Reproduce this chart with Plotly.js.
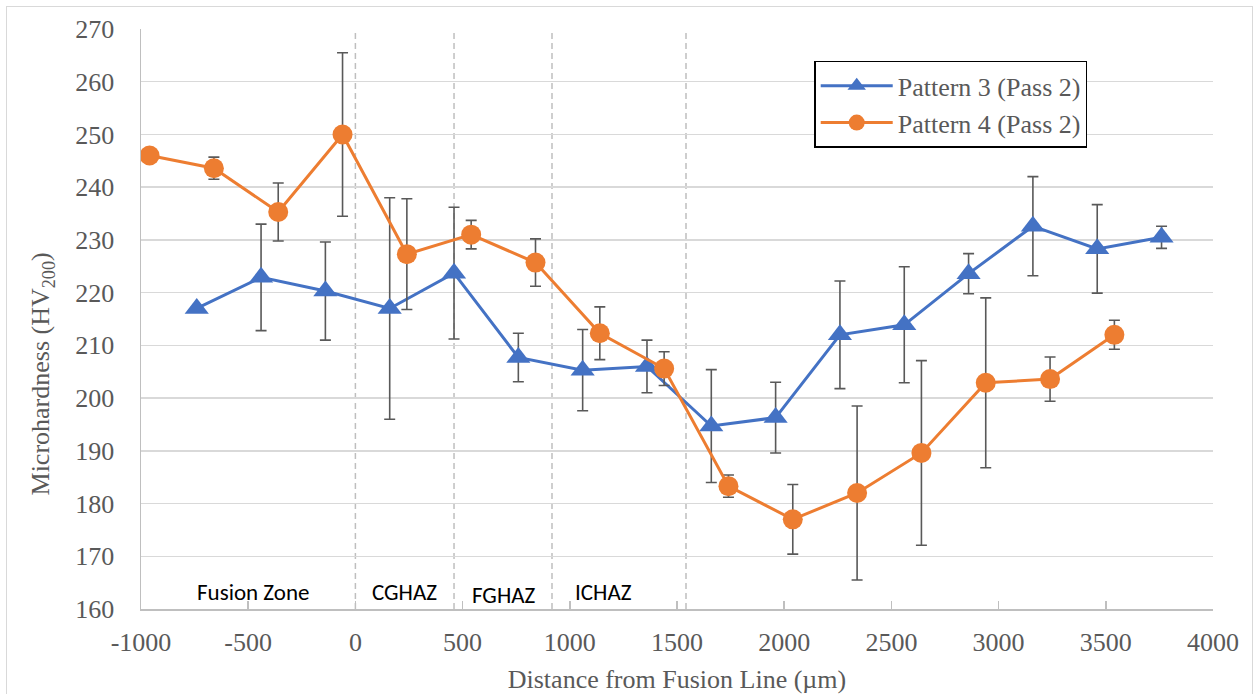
<!DOCTYPE html>
<html>
<head>
<meta charset="utf-8">
<script src="https://cdn.plot.ly/plotly-3.0.1.min.js"></script>
<style>
  html, body { margin: 0; padding: 0; background: #ffffff; }
  #wrap { position: relative; width: 1255px; height: 694px; overflow: hidden; }
  #chart { width: 1255px; height: 694px; }
  #frame { position: absolute; left: 6px; top: 6px; width: 1247px; height: 700px;
           border: 1.5px solid #d9d9d9; box-sizing: border-box; pointer-events: none; }
</style>
</head>
<body>
<div id="wrap">
  <div id="chart"></div>
  <div id="frame"></div>
</div>
<script>
// Microhardness traverse across the weld, Pass 2
const pattern3X   = [-740, -440, -140, 160, 460, 760, 1060, 1360, 1660, 1960, 2260, 2560, 2860, 3160, 3460, 3760];
const pattern3HV  = [217.0, 222.9, 220.3, 217.0, 223.7, 207.7, 205.3, 206.0, 194.7, 196.3, 212.0, 213.9, 223.6, 232.6, 228.3, 230.5];
const pattern3Err = [null, 10.1, 9.3, 21.0, 12.5, 4.6, 7.7, 5.0, 10.7, 6.7, 10.2, 11.0, 3.8, 9.4, 8.4, 2.1];

const pattern4X   = [-960, -660, -360, -60, 240, 540, 840, 1140, 1440, 1740, 2040, 2340, 2640, 2940, 3240, 3540];
const pattern4HV  = [246.0, 243.6, 235.3, 250.0, 227.3, 231.0, 225.7, 212.3, 205.6, 183.3, 177.0, 182.0, 189.6, 202.9, 203.6, 212.0];
const pattern4Err = [null, 2.1, 5.5, 15.5, 10.5, 2.7, 4.5, 5.0, 3.2, 2.1, 6.6, 16.5, 17.5, 16.1, 4.2, 2.75];

const seriesNames = ['Pattern 3 (Pass 2)', 'Pattern 4 (Pass 2)'];

// Zone boundaries (µm) and zone labels
const zoneBounds = [0, 460, 917, 1542];
const zoneLabels = ['Fusion Zone', 'CGHAZ', 'FGHAZ', 'ICHAZ'];
const zoneLabelX = [-478, 227, 693, 1159];
const zoneLabelY = [163.2, 163.2, 162.6, 163.2];

const xTicks = [-1000, -500, 0, 500, 1000, 1500, 2000, 2500, 3000, 3500, 4000];
const yTicks = [160, 170, 180, 190, 200, 210, 220, 230, 240, 250, 260, 270];

const SERIF = '"Liberation Serif", "Times New Roman", serif';
const SANS = 'Carlito, Lato, "Open Sans", sans-serif';
const GREY_TEXT = '#595959';

const errStyle = { type: 'data', visible: true, color: '#595959', thickness: 1.6, width: 5.5 };

const traces = [
  {
    x: pattern3X, y: pattern3HV, name: seriesNames[0],
    type: 'scatter', mode: 'lines+markers',
    line: { color: '#4472C4', width: 3 },
    marker: { symbol: 'triangle-up', size: 21, color: '#4472C4' },
    error_y: Object.assign({ array: pattern3Err }, errStyle)
  },
  {
    x: pattern4X, y: pattern4HV, name: seriesNames[1],
    type: 'scatter', mode: 'lines+markers',
    line: { color: '#ED7D31', width: 3 },
    marker: { symbol: 'circle', size: 20, color: '#ED7D31' },
    error_y: Object.assign({ array: pattern4Err }, errStyle)
  }
];

const shapes = zoneBounds.map(b => ({
  type: 'line', xref: 'x', yref: 'paper', x0: b, x1: b, y0: 0, y1: 1,
  line: { color: '#bfbfbf', width: 1.5, dash: '6px,4px' }, layer: 'below'
}));

const annotations = zoneLabels.map((t, i) => ({
  text: t, xref: 'x', yref: 'y', x: zoneLabelX[i], y: zoneLabelY[i],
  showarrow: false, font: { family: SANS, size: 23, color: '#000000' }
}));

// Rotated y-axis title
annotations.push({
  text: 'Microhardness (HV<sub>200</sub>)', textangle: -90,
  xref: 'paper', yref: 'paper', x: -0.092, y: 0.405,
  xanchor: 'center', yanchor: 'middle', showarrow: false,
  font: { family: SERIF, size: 26, color: GREY_TEXT }
});

const layout = {
  width: 1255, height: 694,
  margin: { l: 141, r: 42, t: 29, b: 85, pad: 0 },
  paper_bgcolor: '#ffffff', plot_bgcolor: '#ffffff',
  showlegend: true,
  legend: {
    x: 0.628, y: 0.945, xanchor: 'left', yanchor: 'top',
    bgcolor: '#ffffff', bordercolor: '#000000', borderwidth: 1.5,
    font: { family: SERIF, size: 26, color: GREY_TEXT },
    itemwidth: 72, traceorder: 'normal'
  },
  xaxis: {
    range: [-1000, 4000], tickvals: xTicks, ticktext: xTicks.map(String),
    showgrid: false, zeroline: false,
    showline: true, linecolor: '#bfbfbf', linewidth: 1.5,
    ticks: 'inside', ticklen: 8, tickwidth: 1.5, tickcolor: '#bfbfbf',
    ticklabelstandoff: 9,
    tickfont: { family: SERIF, size: 26, color: GREY_TEXT },
    title: { text: 'Distance from Fusion Line (µm)', standoff: 14,
             font: { family: SERIF, size: 26, color: GREY_TEXT } }
  },
  yaxis: {
    range: [160, 270], tickvals: yTicks, ticktext: yTicks.map(String),
    showgrid: true, gridcolor: '#d9d9d9', gridwidth: 1.5,
    zeroline: false, showline: true, linecolor: '#bfbfbf', linewidth: 1.5,
    ticks: '', ticklabelstandoff: 20,
    tickfont: { family: SERIF, size: 26, color: GREY_TEXT }
  },
  shapes: shapes,
  annotations: annotations
};

Plotly.newPlot('chart', traces, layout, { staticPlot: true, displayModeBar: false });
</script>
</body>
</html>
